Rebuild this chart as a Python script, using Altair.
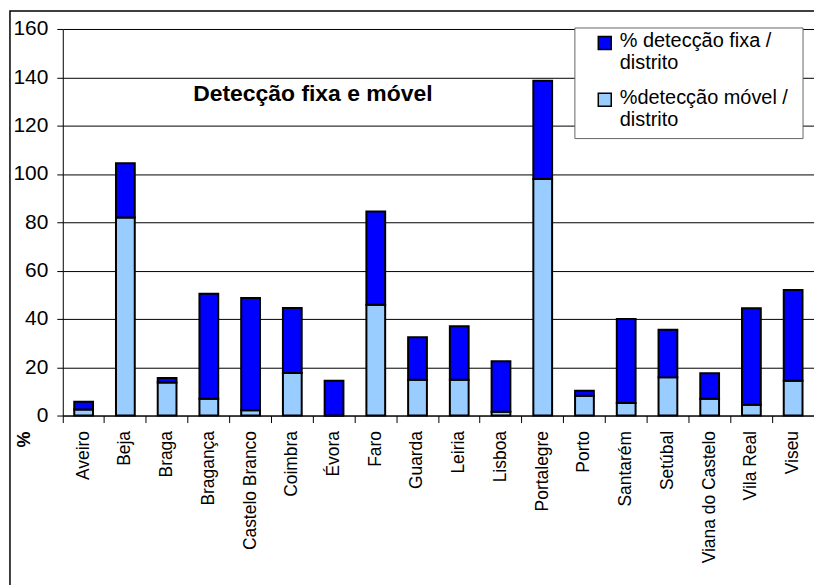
import altair as alt
import pandas as pd

districts = ["Aveiro", "Beja", "Braga", "Bragança", "Castelo Branco", "Coimbra",
             "Évora", "Faro", "Guarda", "Leiria", "Lisboa", "Portalegre", "Porto",
             "Santarém", "Setúbal", "Viana do Castelo", "Vila Real", "Viseu"]
movel = [2.5, 82.0, 13.7, 7.0, 2.2, 17.6, 0.0, 45.9, 14.8, 14.8, 1.6, 97.9,
         8.2, 5.2, 15.8, 7.0, 4.5, 14.4]
fixa = [3.2, 22.4, 1.8, 43.4, 46.5, 26.9, 14.4, 38.6, 17.6, 22.2, 20.9, 40.7,
        2.1, 34.8, 19.7, 10.5, 39.9, 37.6]
series = ["% detecção fixa / distrito", "%detecção móvel / distrito"]
colors = ["#0000FF", "#99CCFF"]
y_ticks = [0, 20, 40, 60, 80, 100, 120, 140, 160]

rows = []
for d, m, f in zip(districts, movel, fixa):
    rows.append({"distrito": d, "serie": series[1], "valor": m, "ord": 0})
    rows.append({"distrito": d, "serie": series[0], "valor": f, "ord": 1})
df = pd.DataFrame(rows)

FONT = "Liberation Sans"
W, H = 754, 388

bars = alt.Chart(df).mark_bar(
    stroke="black", strokeWidth=2, width=alt.RelativeBandSize(0.45)
).encode(
    x=alt.X("distrito:N", sort=districts, title=None,
            scale=alt.Scale(paddingInner=0, paddingOuter=0),
            axis=alt.Axis(labelAngle=-90, labelAlign="right", labelBaseline="middle",
                          labelFontSize=17.5, labelFont=FONT, labelColor="black",
                          labelPadding=8, tickSize=7, tickColor="black",
                          domainColor="black", bandPosition=0, grid=False,
                          labelLimit=300)),
    y=alt.Y("valor:Q", stack="zero", title=None,
            scale=alt.Scale(domain=[0, 160], nice=False),
            axis=alt.Axis(values=y_ticks, labelFontSize=21, labelFont=FONT,
                          labelColor="black", tickSize=6, tickColor="black",
                          domainColor="black", labelPadding=9, gridColor="black",
                          gridWidth=1)),
    color=alt.Color("serie:N", scale=alt.Scale(domain=series, range=colors),
                    legend=alt.Legend(
                        title=None, orient="none", legendX=534, legendY=-8,
                        direction="vertical",
                        symbolType="M-1,0.846H1V2.846H-1Z", symbolSize=169,
                        symbolStrokeColor="black", symbolStrokeWidth=1.5,
                        labelFontSize=20, labelFont=FONT, labelColor="black",
                        labelExpr="[replace(datum.label, ' distrito', ''), 'distrito']",
                        labelBaseline="top", labelOffset=5, labelLimit=300,
                        strokeColor="transparent", padding=0,
                        rowPadding=5)),
    order=alt.Order("ord:Q"),
)

box_df = pd.DataFrame({"k": [1]})
legend_box = alt.Chart(box_df).mark_rect(
    fill="white", stroke="#666666", strokeWidth=1
).encode(x=alt.value(514), x2=alt.value(743), y=alt.value(-1), y2=alt.value(110))

title_df = pd.DataFrame({"t": ["Detecção fixa e móvel"]})
title = alt.Chart(title_df).mark_text(
    font=FONT, fontSize=23, fontWeight="bold", color="black",
    align="center", baseline="middle"
).encode(text="t:N", x=alt.value(251), y=alt.value(65))

pct_df = pd.DataFrame({"t": ["%"]})
pct = alt.Chart(pct_df).mark_text(
    font=FONT, fontSize=18, fontWeight="bold", color="black",
    align="center", baseline="middle", angle=270
).encode(text="t:N", x=alt.value(-38), y=alt.value(412))

frame_df = pd.DataFrame({"k": [1]})
frame = alt.Chart(frame_df).mark_rect(
    fill="white", fillOpacity=0, stroke="black", strokeWidth=1.5
).encode(x=alt.value(-53), x2=alt.value(W + 40), y=alt.value(-18), y2=alt.value(H + 300))

chart = alt.layer(frame, bars, legend_box, title, pct).properties(
    width=W, height=H,
    autosize=alt.AutoSizeParams(type="none"),
    padding={"left": 63, "top": 28, "right": 0, "bottom": 169},
    background="white",
).configure_view(stroke=None)

chart.save("out.html", embed_options={"renderer": "svg", "actions": False})
